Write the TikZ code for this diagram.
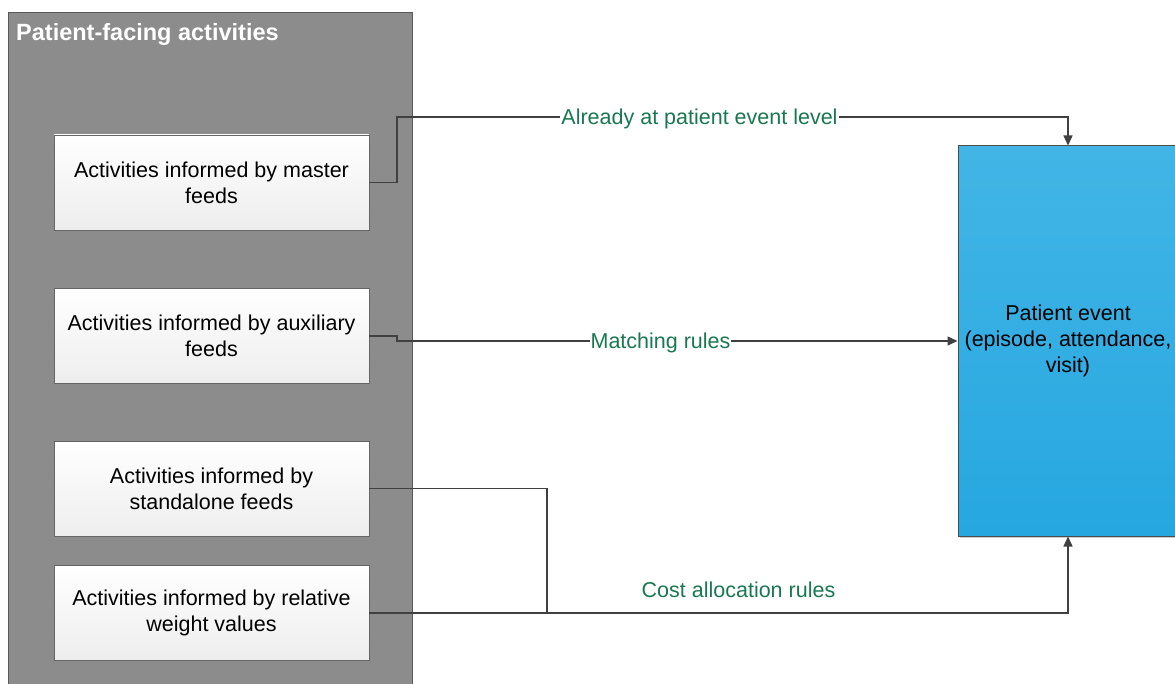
\documentclass[tikz,border=0pt]{standalone}
\usepackage{fontspec}
\setmainfont{Liberation Sans}
\usetikzlibrary{arrows.meta,shadows}
\definecolor{labgreen}{RGB}{24,120,80}
\definecolor{linegray}{RGB}{64,64,64}
\definecolor{groupgray}{RGB}{140,140,140}
\definecolor{bluetop}{RGB}{66,181,230}
\definecolor{bluebot}{RGB}{38,167,224}
\begin{document}
\begin{tikzpicture}[x=1pt,y=-1pt,
  actbox/.style={draw=gray!80!black, line width=0.8pt, top color=white, bottom color=black!7,
    minimum width=315pt, minimum height=95pt, align=center, inner sep=0pt,
    font=\fontsize{21.5}{26}\selectfont,
    drop shadow={shadow xshift=1.5pt, shadow yshift=-1.5pt, fill=black!45, opacity=0.6}},
  conn/.style={draw=linegray, line width=1.4pt},
  arr/.style={conn, -{Triangle[length=10pt,width=9pt]}},
  lab/.style={text=labgreen, font=\fontsize{21.5}{26}\selectfont, inner sep=1pt}
]
\useasboundingbox (0,0) rectangle (1175,684);
\begin{scope}
\clip (0,0) rectangle (1175,684);
% group container
\node[draw=black!65, line width=1pt, fill=groupgray, minimum width=404pt, minimum height=690pt,
  inner sep=0pt, anchor=north west] (grp) at (8,12) {};
\node[anchor=west, text=white, font=\fontsize{23.5}{26}\selectfont\bfseries, inner sep=0pt] (title) at (16,34) {Patient-facing activities};
% activity boxes
\node[actbox] (b1) at (211.5,182.5) {Activities informed by master\\feeds};
\node[actbox] (b2) at (211.5,336) {Activities informed by auxiliary\\feeds};
\node[actbox] (b3) at (211.5,488.5) {Activities informed by\\standalone feeds};
\node[actbox] (b4) at (211.5,613) {Activities informed by relative\\weight values};
% patient event
\node[draw=black!70, line width=1pt, top color=bluetop, bottom color=bluebot,
  minimum width=220pt, minimum height=390pt, inner sep=0pt, align=center,
  font=\fontsize{21.5}{26}\selectfont,
  drop shadow={shadow xshift=1.5pt, shadow yshift=-1.5pt, fill=black!40, opacity=0.5}]
  (pe) at (1068,341) {Patient event\\(episode, attendance,\\visit)};
% connectors
\coordinate (k1) at (397,182.5);
\coordinate (k2) at (397,336);
\coordinate (k3) at (547,488.5);
\draw[arr] (b1.east) -- (k1) |- (1068,117) -- (pe.north);
\draw[arr] (b2.east) -- (k2) |- (pe.west);
\draw[conn] (b3.east) -- (k3) |- (b4.east -| k3);
\draw[arr] (b4.east) -| (pe.south);
% labels
\node[lab, fill=white, anchor=base] (l1) at (699.5,125) {Already at patient event level};
\node[lab, fill=white, anchor=base] (l2) at (660.5,349) {Matching rules};
\node[lab, anchor=base] (l3) at (738.5,597) {Cost allocation rules};
\end{scope}
\end{tikzpicture}
\end{document}
